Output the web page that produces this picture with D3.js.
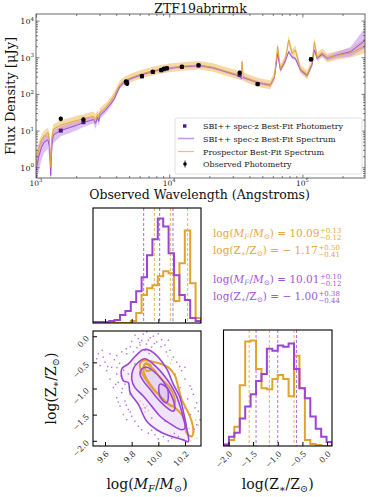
<!DOCTYPE html>
<html>
<head>
<meta charset="utf-8">
<script src="https://cdn.jsdelivr.net/npm/d3@7"></script>
<style>
  body { margin: 0; background: #fff; }
  svg text { font-family: "DejaVu Serif", serif; }
</style>
</head>
<body>
<svg id="chart" width="373" height="497"></svg>
<script>
// ---------- SED panel data ----------
const specWave = [1000, 1050, 1100, 1150, 1230, 1265, 1290, 1315, 1350, 1535,
  1780, 2000, 2270, 2520, 2700, 2800, 2900, 2960, 3020, 3310,
  3630, 3890, 4070, 4270, 4530, 5010, 5620, 6310, 7240, 8320,
  10000, 12590, 16550, 17780, 21380, 24150, 33040, 34670, 35240, 35900,
  40640, 48310, 57410, 61660, 65160, 68390, 74470, 78890, 83750, 88510,
  96610, 108400, 118300, 123000, 128800, 140600, 153500, 182400, 229600, 297800];

const sbiFlux = [0.8, 2.0, 3.5, 4.8, 5.6, 3.5, 0.6, 4, 7.6, 10,
  12, 13.8, 16.6, 18.6, 20, 15.8, 23, 18, 26, 35.5,
  52.5, 76, 112, 158, 200, 251, 295, 339, 398, 447,
  501, 550, 589, 575, 513, 447, 316, 269, 263, 282,
  240, 195, 174, 282, 1259, 447, 794, 1413, 1000, 933,
  447, 316, 631, 1585, 933, 1202, 933, 1148, 1413, 2950];
const sbiLo = [0.3, 0.8, 1.6, 2.5, 3.2, 1.5, 0.3, 2, 4.5, 7,
  8.5, 10, 12.5, 14.5, 15.5, 11, 18, 13, 21, 29,
  44, 65, 98, 142, 182, 230, 272, 312, 367, 412,
  462, 508, 544, 530, 473, 412, 290, 240, 232, 255,
  218, 177, 158, 255, 1050, 400, 710, 1260, 890, 830,
  395, 275, 550, 1380, 810, 1040, 800, 950, 1050, 1800];
const sbiHi = [2.0, 4, 6, 7.5, 8, 6, 1.5, 6.5, 10, 13,
  15.5, 17.5, 20.5, 23, 24, 20, 27, 23, 31, 42,
  61, 88, 126, 175, 220, 272, 320, 366, 430, 483,
  542, 595, 637, 622, 555, 483, 345, 300, 295, 310,
  262, 215, 192, 310, 1500, 500, 890, 1590, 1120, 1050,
  505, 365, 725, 1820, 1075, 1390, 1090, 1390, 1900, 6700];

const prosFlux = [1.3, 3.2, 5.6, 7, 9, 5, 1.0, 6.3, 11, 14,
  16.6, 18.6, 21, 23, 24.5, 20, 28, 22.4, 31.6, 41.7,
  63, 93, 132, 182, 219, 263, 309, 355, 407, 457,
  513, 562, 603, 589, 525, 457, 324, 316, 759, 295,
  245, 200, 178, 302, 1950, 479, 891, 2950, 1259, 1585,
  479, 331, 708, 2630, 1000, 1318, 955, 1122, 1318, 2000];
const prosLo = [0.5, 1.6, 3.2, 4.5, 6, 2.5, 0.4, 3.5, 7.5, 10,
  12, 14, 16, 17.5, 19, 14, 22, 16, 25, 33,
  50, 72, 100, 140, 170, 200, 235, 270, 310, 350,
  390, 430, 460, 450, 400, 350, 250, 240, 560, 225,
  185, 150, 135, 230, 1500, 365, 680, 2250, 960, 1200,
  365, 250, 540, 2000, 760, 1000, 720, 850, 980, 1300];
const prosHi = [3, 5, 8, 10, 12, 8, 2, 9, 15, 19,
  22, 25, 28, 31, 33, 28, 37, 30, 42, 55,
  80, 120, 170, 235, 285, 345, 405, 465, 535, 600,
  670, 735, 790, 770, 690, 600, 425, 420, 1000, 390,
  325, 265, 235, 400, 2550, 630, 1170, 3900, 1650, 2080,
  630, 435, 930, 3450, 1320, 1740, 1260, 1480, 1780, 3300];

const photWave = [1535, 2270, 4740, 4830, 6240, 7530, 8720, 9120, 9600, 12450, 16600, 33800, 46100, 116000];
const photFlux = [21, 20, 220, 190, 307, 403, 447, 490, 500, 550, 610, 380, 185, 880];
const photErr = [3, 3, 25, 20, 25, 25, 25, 30, 30, 60, 70, 45, 15, 60];
const sbiPhot = [10, 17, 205, 210, 300, 395, 440, 470, 495, 545, 590, 330, 185, 870];

const legendLabels = ["SBI++ spec-z Best-Fit Photometry", "SBI++ spec-z Best-Fit Spectrum",
  "Prospector Best-Fit Spectrum", "Observed Photometry"];

// ---------- corner plot data ----------
const massRange = [9.51, 10.32];
const metalRange = [-2.1, 0.1];
const massPurple = [1, 1, 1, 2, 3, 8, 12, 21, 32, 46, 68, 84, 105, 97, 70, 48, 28, 23, 5, 2];
const massOrange = [0, 0, 0, 0, 0, 0, 0, 2, 10, 28, 35, 38, 47, 52, 50, 22, 60, 93, 40, 5];
const metalPurple = [1, 9, 13, 27, 39, 51, 64, 71, 96, 94, 99, 98, 101, 76, 57, 47, 29, 17, 9, 4];
const metalOrange = [2, 6, 19, 60, 103, 104, 76, 57, 56, 66, 70, 66, 49, 89, 57, 6, 2, 1, 0, 0];
const massQSbi = [9.89, 10.01, 10.11];
const massQPros = [9.97, 10.09, 10.22];
const metalQSbi = [-1.44, -1.00, -0.62];
const metalQPros = [-1.58, -1.17, -0.67];
const massTicks = [9.6, 9.8, 10.0, 10.2];
const metalTicks = [-2.0, -1.5, -1.0, -0.5, 0.0];

// 2D contours (logM, logZ)
const sbiContours = [
  [[9.887, -0.258], [9.938, -0.271], [10.0, -0.401], [10.063, -0.626], [10.112, -0.917], [10.163, -1.176],
   [10.187, -1.434], [10.213, -1.758], [10.225, -2.016], [10.187, -1.983], [10.063, -1.886], [9.988, -1.789],
   [9.913, -1.628], [9.85, -1.304], [9.788, -1.079], [9.775, -0.886], [9.737, -0.853], [9.725, -0.626],
   [9.775, -0.529], [9.825, -0.388]],
  [[9.9, -0.432], [9.988, -0.595], [10.063, -0.82], [10.125, -1.079], [10.163, -1.337], [10.187, -1.564],
   [10.2, -1.758], [10.175, -1.789], [10.1, -1.692], [10.013, -1.531], [9.95, -1.337], [9.887, -1.143],
   [9.825, -0.983], [9.8, -0.82], [9.812, -0.626], [9.85, -0.498]],
  [[9.913, -0.595], [9.988, -0.723], [10.05, -0.917], [10.1, -1.143], [10.125, -1.37], [10.112, -1.434],
   [10.05, -1.337], [9.988, -1.176], [9.938, -1.014], [9.887, -0.853], [9.862, -0.723], [9.875, -0.626]],
  [[10.013, -0.917], [10.063, -0.983], [10.075, -1.143], [10.063, -1.273], [10.025, -1.207], [10.005, -1.079]]
];
const prosContours = [
  [[9.887, -0.465], [9.975, -0.498], [10.075, -0.595], [10.125, -0.756], [10.15, -0.983], [10.175, -1.207],
   [10.2, -1.337], [10.225, -1.467], [10.25, -1.628], [10.262, -1.822], [10.25, -1.919], [10.213, -1.855],
   [10.2, -1.628], [10.175, -1.498], [10.125, -1.37], [10.063, -1.273], [10.013, -1.143], [9.962, -1.014],
   [9.913, -0.853], [9.875, -0.692], [9.862, -0.529]],
  [[9.9, -0.529], [9.962, -0.626], [10.013, -0.789], [10.075, -0.95], [10.112, -1.11], [10.125, -1.273],
   [10.1, -1.337], [10.05, -1.24], [9.988, -1.079], [9.938, -0.917], [9.9, -0.756], [9.887, -0.626]],
  [[9.9, -0.52], [9.94, -0.55], [9.945, -0.64], [9.91, -0.66]]
];
const sbiSamples = [
  [9.825, 0.02], [9.85, -0.045], [9.888, 0.04], [9.925, -0.077], [9.963, 0.0], [9.988, -0.11], [10.025, -0.065],
  [10.05, -0.17], [9.95, -0.207], [9.9, -0.27], [9.863, -0.17], [9.813, -0.30], [9.763, -0.336], [9.725, -0.30],
  [9.688, -0.37], [9.638, -0.336], [9.588, -0.40], [9.55, -0.336], [9.538, -0.43], [10.088, -0.27], [10.113, -0.40],
  [10.075, -0.077], [10.0, 0.05], [9.913, 0.084], [9.65, -0.594], [9.613, -0.659], [9.688, -0.724], [9.638, -0.82],
  [9.7, -0.885], [9.663, -0.982], [9.725, -1.079], [9.688, -1.176], [9.75, -1.24], [9.713, -1.337], [9.775, -1.402],
  [9.738, -1.499], [9.8, -1.531], [9.825, -1.628], [9.763, -1.596], [9.788, -1.111], [9.6, -0.497], [9.563, -0.562],
  [9.875, -1.79], [9.925, -1.854], [9.975, -1.886], [10.038, -1.919], [10.1, -1.951], [10.15, -1.919], [10.188, -1.983],
  [10.075, -2.003], [10.0, -1.964], [10.138, -0.497], [10.175, -0.659], [10.2, -0.82], [10.238, -0.95], [10.263, -1.111],
  [10.288, -1.273], [10.3, -1.434], [10.313, -1.596], [10.275, -1.37], [10.25, -1.014], [10.2, -0.594], [10.288, -1.693],
  [9.825, -0.53], [9.775, -0.724], [9.75, -0.917], [10.125, -0.724], [10.163, -0.982], [9.95, -1.563], [9.9, -1.37],
  [10.05, -1.628], [10.2, -1.37], [9.86, -0.12], [9.94, -0.03], [9.79, -0.2], [9.67, -0.45], [9.74, -0.65],
  [9.84, -0.22], [9.875, -0.08], [9.91, -0.15], [9.97, -0.14], [10.02, -0.2], [9.8, -0.1], [9.76, -0.24],
  [9.71, -0.52], [9.69, -0.6], [9.72, -0.76], [9.68, -0.92], [9.73, -1.0], [9.7, -1.26], [9.76, -1.32],
  [9.79, -1.45], [9.85, -1.72], [9.95, -1.8], [10.12, -1.86], [10.22, -1.2], [10.24, -1.5], [10.27, -1.78],
  [10.16, -0.58], [10.06, -0.3], [9.93, -0.33], [9.58, -0.27], [9.62, -0.58]
];
const prosSamples = [
  [9.863, -1.24], [9.888, -1.305], [9.913, -1.337], [9.875, -1.383], [9.925, -1.421], [9.9, -1.447], [9.85, -1.305],
  [10.23, -1.76], [10.27, -1.83], [10.25, -1.9], [10.29, -1.95], [10.24, -2.0], [10.3, -1.7], [10.28, -1.6],
  [10.07, -0.38], [10.1, -0.45], [10.09, -0.52]
];

// ---------- colours ----------
const purple = "#9c44d8", purpleLight = "#b36ee6", orange = "#e1a32f", orangeLight = "#ebb555";

const svg = d3.select("#chart");

// ================= SED panel =================
const sed = { left: 36, right: 365, top: 14, bottom: 178 };
const x = d3.scaleLog().domain([1000, 295000]).range([sed.left, sed.right]);
const y = d3.scaleLog().domain([0.51, 15100]).range([sed.bottom, sed.top]);

svg.append("clipPath").attr("id", "sedclip").append("rect")
  .attr("x", sed.left).attr("y", sed.top)
  .attr("width", sed.right - sed.left).attr("height", sed.bottom - sed.top);

const spec = specWave.map((w, i) => ({
  w, s: sbiFlux[i], sl: sbiLo[i], sh: sbiHi[i], p: prosFlux[i], pl: prosLo[i], ph: prosHi[i]
}));

const g = svg.append("g").attr("clip-path", "url(#sedclip)");

g.append("path").datum(spec)
  .attr("d", d3.area().x(d => x(d.w)).y0(d => y(d.pl)).y1(d => y(d.ph)))
  .attr("fill", "#f2d18f").attr("opacity", 0.8);
g.append("path").datum(spec)
  .attr("d", d3.area().x(d => x(d.w)).y0(d => y(d.sl)).y1(d => y(d.sh)))
  .attr("fill", "#c996ee").attr("opacity", 0.6);
g.append("path").datum(spec)
  .attr("d", d3.line().x(d => x(d.w)).y(d => y(d.s)))
  .attr("fill", "none").attr("stroke", "#9b4fd0").attr("stroke-width", 1);
g.append("path").datum(spec)
  .attr("d", d3.line().x(d => x(d.w)).y(d => y(d.p)))
  .attr("fill", "none").attr("stroke", "#e2a43a").attr("stroke-width", 1);

// observed photometry + model photometry
const phot = photWave.map((w, i) => ({ w, f: photFlux[i], e: photErr[i], m: sbiPhot[i] }));
g.selectAll(".err").data(phot).join("line")
  .attr("x1", d => x(d.w)).attr("x2", d => x(d.w))
  .attr("y1", d => y(d.f - d.e)).attr("y2", d => y(d.f + d.e))
  .attr("stroke", "#000").attr("stroke-width", 1);
g.selectAll(".msq").data(phot).join("rect")
  .attr("x", d => x(d.w) - 2).attr("y", d => y(d.m) - 2)
  .attr("width", 4).attr("height", 4).attr("fill", "#4b1a82");
g.selectAll(".obs").data(phot).join("circle")
  .attr("cx", d => x(d.w)).attr("cy", d => y(d.f)).attr("r", 2.2).attr("fill", "#000");

// ticks (inward, all sides)
const xMajor = [1e3, 1e4, 1e5];
const xMinor = [];
[1e3, 1e4, 1e5].forEach(dec => { for (let k = 2; k <= 9; k++) if (dec * k < 295000) xMinor.push(dec * k); });
const yMajor = [1, 10, 100, 1000, 10000];
const yMinor = [0.6, 0.7, 0.8, 0.9];
[1, 10, 100, 1000].forEach(dec => { for (let k = 2; k <= 9; k++) yMinor.push(dec * k); });

function tickSet(axisFn, scale, vals, size, transform) {
  const a = svg.append("g").attr("transform", transform)
    .call(axisFn(scale).tickValues(vals).tickSize(-size).tickFormat(""));
  a.select(".domain").remove();
  a.selectAll("line").attr("stroke", "#444").attr("stroke-width", 0.7);
}
tickSet(d3.axisBottom, x, xMajor, 3.5, `translate(0,${sed.bottom})`);
tickSet(d3.axisBottom, x, xMinor, 2, `translate(0,${sed.bottom})`);
tickSet(d3.axisTop, x, xMajor, 3.5, `translate(0,${sed.top})`);
tickSet(d3.axisTop, x, xMinor, 2, `translate(0,${sed.top})`);
tickSet(d3.axisLeft, y, yMajor, 3.5, `translate(${sed.left},0)`);
tickSet(d3.axisLeft, y, yMinor, 2, `translate(${sed.left},0)`);
tickSet(d3.axisRight, y, yMajor, 3.5, `translate(${sed.right},0)`);
tickSet(d3.axisRight, y, yMinor, 2, `translate(${sed.right},0)`);

svg.append("rect").attr("x", sed.left).attr("y", sed.top)
  .attr("width", sed.right - sed.left).attr("height", sed.bottom - sed.top)
  .attr("fill", "none").attr("stroke", "#444").attr("stroke-width", 0.8);

// tick labels 10^n
xMajor.forEach(v => {
  const t = svg.append("text").attr("x", x(v)).attr("y", 185.5)
    .attr("text-anchor", "middle").attr("font-size", 7.5).attr("fill", "#222");
  t.append("tspan").text("10");
  t.append("tspan").attr("dy", -3.2).attr("font-size", 5.2).text(Math.round(Math.log10(v)));
});
yMajor.forEach(v => {
  const t = svg.append("text").attr("x", 34).attr("y", y(v) + 3.5)
    .attr("text-anchor", "end").attr("font-size", 8).attr("fill", "#222");
  t.append("tspan").text("10");
  t.append("tspan").attr("dy", -3.5).attr("font-size", 5.5).text(Math.round(Math.log10(v)));
});

svg.append("text").attr("x", (sed.left + sed.right) / 2).attr("y", 12.5)
  .attr("text-anchor", "middle").attr("font-size", 12.5).attr("fill", "#111").text("ZTF19abrirmk");
svg.append("text").attr("x", (sed.left + sed.right) / 2 - 1).attr("y", 199)
  .attr("text-anchor", "middle").attr("font-size", 12.5).attr("fill", "#111")
  .text("Observed Wavelength (Angstroms)");
svg.append("text").attr("transform", `translate(15,${(sed.top + sed.bottom) / 2}) rotate(-90)`)
  .attr("text-anchor", "middle").attr("font-size", 13).attr("fill", "#111")
  .text("Flux Density [\u03bcJy]");

// legend
const lg = svg.append("g");
lg.append("rect").attr("x", 175).attr("y", 118).attr("width", 187).attr("height", 56)
  .attr("rx", 2).attr("fill", "#fff").attr("fill-opacity", 0.85)
  .attr("stroke", "#d8d8d8").attr("stroke-width", 0.8);
const ly = [126, 138.5, 151.5, 164];
lg.append("rect").attr("x", 183).attr("y", ly[0] - 1.7).attr("width", 3.4).attr("height", 3.4).attr("fill", "#4b1a82");
lg.append("line").attr("x1", 178).attr("x2", 194).attr("y1", ly[1]).attr("y2", ly[1])
  .attr("stroke", "#c996ee").attr("stroke-width", 1.5);
lg.append("line").attr("x1", 178).attr("x2", 194).attr("y1", ly[2]).attr("y2", ly[2])
  .attr("stroke", "#ebc070").attr("stroke-width", 1.2);
lg.append("line").attr("x1", 185).attr("x2", 185).attr("y1", ly[3] - 3.5).attr("y2", ly[3] + 3.5)
  .attr("stroke", "#000").attr("stroke-width", 0.8);
lg.append("circle").attr("cx", 185).attr("cy", ly[3]).attr("r", 1.8).attr("fill", "#000");
legendLabels.forEach((s, i) => {
  lg.append("text").attr("x", 203).attr("y", ly[i] + 3).attr("font-size", 8).attr("fill", "#222").text(s);
});

// ================= corner plot =================
const boxT = { left: 93, right: 201, top: 208, bottom: 323 };
const boxS = { left: 93, right: 201, top: 331, bottom: 446 };
const boxR = { left: 223.5, right: 332, top: 330, bottom: 446 };

const mx = d3.scaleLinear().domain(massRange).range([boxT.left, boxT.right]);
const zy = d3.scaleLinear().domain(metalRange).range([boxS.bottom, boxS.top]);
const zx = d3.scaleLinear().domain(metalRange).range([boxR.left, boxR.right]);

function clip(id, b) {
  svg.append("clipPath").attr("id", id).append("rect")
    .attr("x", b.left).attr("y", b.top).attr("width", b.right - b.left).attr("height", b.bottom - b.top);
}
clip("clipT", boxT); clip("clipS", boxS); clip("clipR", boxR);

function edges(r) { return d3.range(21).map(i => r[0] + i * (r[1] - r[0]) / 20); }
function stepPoints(counts, e) {
  const p = [[e[0], 0]];
  counts.forEach((c, i) => { p.push([e[i], c]); p.push([e[i + 1], c]); });
  p.push([e[20], 0]);
  return p;
}

function histPanel(b, xs, cntA, cntB, qA, qB, clipId) {
  const hy = d3.scaleLinear().domain([0, 1.1 * d3.max(cntA.concat(cntB))]).range([b.bottom, b.top]);
  const e = edges(xs.domain());
  const gg = svg.append("g").attr("clip-path", `url(#${clipId})`);
  const line = d3.line().x(d => xs(d[0])).y(d => hy(d[1]));
  qB.forEach(q => gg.append("line").attr("x1", xs(q)).attr("x2", xs(q)).attr("y1", b.top).attr("y2", b.bottom)
    .attr("stroke", orangeLight).attr("stroke-width", 1).attr("stroke-dasharray", "3,2"));
  qA.forEach(q => gg.append("line").attr("x1", xs(q)).attr("x2", xs(q)).attr("y1", b.top).attr("y2", b.bottom)
    .attr("stroke", purpleLight).attr("stroke-width", 1).attr("stroke-dasharray", "3,2"));
  gg.append("path").attr("d", line(stepPoints(cntB, e))).attr("fill", "none")
    .attr("stroke", orange).attr("stroke-width", 2);
  gg.append("path").attr("d", line(stepPoints(cntA, e))).attr("fill", "none")
    .attr("stroke", purple).attr("stroke-width", 2);
}
histPanel(boxT, mx, massPurple, massOrange, massQSbi, massQPros, "clipT");
histPanel(boxR, zx, metalPurple, metalOrange, metalQSbi, metalQPros, "clipR");

// scatter / contours
const gs = svg.append("g").attr("clip-path", "url(#clipS)");
const cline = d3.line().x(d => mx(d[0])).y(d => zy(d[1])).curve(d3.curveCatmullRomClosed.alpha(0.5));
gs.selectAll(".ps").data(sbiSamples).join("rect")
  .attr("x", d => mx(d[0]) - 0.7).attr("y", d => zy(d[1]) - 0.7)
  .attr("width", 1.4).attr("height", 1.4).attr("fill", "#a855e0").attr("opacity", 0.85);
gs.selectAll(".os").data(prosSamples).join("rect")
  .attr("x", d => mx(d[0]) - 0.7).attr("y", d => zy(d[1]) - 0.7)
  .attr("width", 1.4).attr("height", 1.4).attr("fill", "#efc070").attr("opacity", 0.9);
sbiContours.forEach(c => gs.append("path").attr("d", cline(c))
  .attr("fill", "#b070e6").attr("fill-opacity", 0.1));
prosContours.forEach(c => gs.append("path").attr("d", cline(c))
  .attr("fill", "none").attr("stroke", orange).attr("stroke-width", 2));
sbiContours.forEach(c => gs.append("path").attr("d", cline(c))
  .attr("fill", "none").attr("stroke", purple).attr("stroke-width", 1.6));

// frames
[boxT, boxS, boxR].forEach(b => svg.append("rect").attr("x", b.left).attr("y", b.top)
  .attr("width", b.right - b.left).attr("height", b.bottom - b.top)
  .attr("fill", "none").attr("stroke", "#000").attr("stroke-width", 1.1));

// corner ticks (inward)
function cornerTicks(axisFn, scale, vals, transform) {
  const a = svg.append("g").attr("transform", transform)
    .call(axisFn(scale).tickValues(vals).tickSize(-4).tickFormat(""));
  a.select(".domain").remove();
  a.selectAll("line").attr("stroke", "#000").attr("stroke-width", 1);
}
cornerTicks(d3.axisBottom, mx, massTicks, `translate(0,${boxT.bottom})`);
cornerTicks(d3.axisBottom, mx, massTicks, `translate(0,${boxS.bottom})`);
cornerTicks(d3.axisLeft, zy, metalTicks, `translate(${boxS.left},0)`);
cornerTicks(d3.axisBottom, zx, metalTicks, `translate(0,${boxR.bottom})`);

const fmt = v => d3.format(".1f")(v).replace("-", "\u2212");
massTicks.forEach(v => svg.append("text")
  .attr("transform", `translate(${mx(v) + 1},${boxS.bottom + 5}) rotate(-45)`)
  .attr("text-anchor", "end").attr("dy", "0.6em").attr("font-size", 8).attr("fill", "#222").text(fmt(v)));
metalTicks.forEach(v => svg.append("text")
  .attr("transform", `translate(${zx(v) + 1},${boxR.bottom + 5}) rotate(-45)`)
  .attr("text-anchor", "end").attr("dy", "0.6em").attr("font-size", 8).attr("fill", "#222").text(fmt(v)));
metalTicks.forEach(v => svg.append("text")
  .attr("transform", `translate(${boxS.left - 5},${zy(v) + 1}) rotate(-45)`)
  .attr("text-anchor", "end").attr("dy", "0.3em").attr("font-size", 8).attr("fill", "#222").text(fmt(v)));

// axis labels
function massLabel(sel, size) {
  sel.append("tspan").text("log(");
  sel.append("tspan").attr("font-style", "italic").text("M");
  sel.append("tspan").attr("font-size", size * 0.7).attr("font-style", "italic").attr("dy", size * 0.2).text("F");
  sel.append("tspan").attr("dy", -size * 0.2).text("/");
  sel.append("tspan").attr("font-style", "italic").text("M");
  sel.append("tspan").attr("font-size", size * 0.7).attr("dy", size * 0.2).text("\u2299");
  sel.append("tspan").attr("dy", -size * 0.2).text(")");
}
function metalLabel(sel, size) {
  sel.append("tspan").text("log(Z");
  sel.append("tspan").attr("font-size", size * 0.7).attr("dy", size * 0.2).text("\u2217");
  sel.append("tspan").attr("dy", -size * 0.2).text("/Z");
  sel.append("tspan").attr("font-size", size * 0.7).attr("dy", size * 0.2).text("\u2299");
  sel.append("tspan").attr("dy", -size * 0.2).text(")");
}
massLabel(svg.append("text").attr("x", (boxS.left + boxS.right) / 2).attr("y", 489)
  .attr("text-anchor", "middle").attr("font-size", 14).attr("fill", "#111"), 14);
metalLabel(svg.append("text").attr("x", (boxR.left + boxR.right) / 2).attr("y", 489)
  .attr("text-anchor", "middle").attr("font-size", 14).attr("fill", "#111"), 14);
metalLabel(svg.append("text")
  .attr("transform", `translate(56,${(boxS.top + boxS.bottom) / 2}) rotate(-90)`)
  .attr("text-anchor", "middle").attr("font-size", 14).attr("fill", "#111"), 14);

// annotations
const annots = [
  { kind: "m", val: "10.09", up: "+0.13", dn: "\u22120.12", y: 237, c: "#e3a845" },
  { kind: "z", val: "\u2212 1.17", up: "+0.50", dn: "\u22120.41", y: 254, c: "#e3a845" },
  { kind: "m", val: "10.01", up: "+0.10", dn: "\u22120.12", y: 283, c: "#a455dd" },
  { kind: "z", val: "\u2212 1.00", up: "+0.38", dn: "\u22120.44", y: 300, c: "#a455dd" }
];
const fs = 10.5;
annots.forEach(a => {
  const t = svg.append("text").attr("x", 213).attr("y", a.y).attr("font-size", fs).attr("fill", a.c);
  if (a.kind === "m") massLabel(t, fs); else metalLabel(t, fs);
  t.append("tspan").text(" = " + a.val);
  const w = t.node().getComputedTextLength();
  svg.append("text").attr("x", 213 + w + 0.5).attr("y", a.y - 4.5).attr("font-size", 7).attr("fill", a.c).text(a.up);
  svg.append("text").attr("x", 213 + w + 0.5).attr("y", a.y + 3).attr("font-size", 7).attr("fill", a.c).text(a.dn);
});
</script>
</body>
</html>
